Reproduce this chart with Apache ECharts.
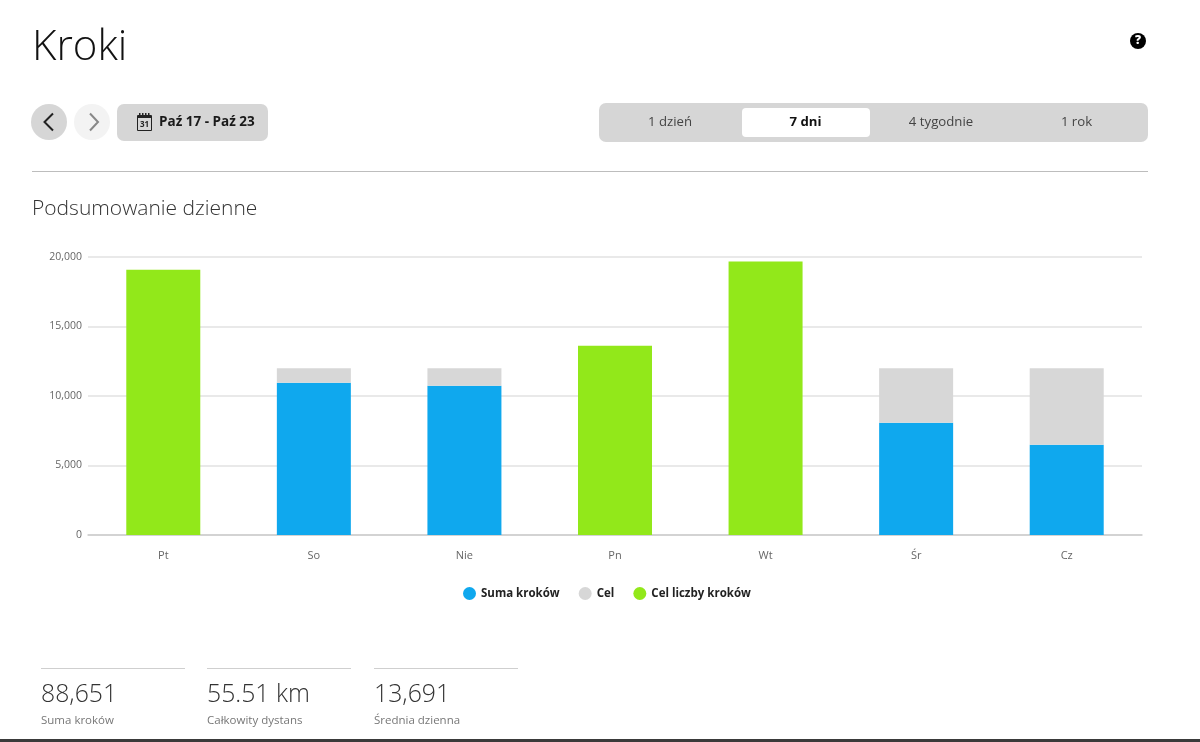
<!DOCTYPE html>
<html>
<head>
<meta charset="UTF-8">
<title>Kroki</title>
<script src="https://cdn.jsdelivr.net/npm/echarts@6/dist/echarts.min.js"></script>
<style>
    html, body { margin: 0; padding: 0; background: #fff; }
    #container { width: 1200px; height: 742px; }
</style>
</head>
<body>
<div id="container"></div>
<script>
    // dane
    let days = ['Pt', 'So', 'Nie', 'Pn', 'Wt', 'Śr', 'Cz'];
    let sumaKrokow = [0, 10960, 10740, 0, 0, 8080, 6491];
    let cel = [0, 1040, 1260, 0, 0, 3920, 5509];
    let celLiczbyKrokow = [19090, 0, 0, 13620, 19670, 0, 0];
    let rangeTabs = ['1 dzień', '7 dni', '4 tygodnie', '1 rok'];
    let statValues = ['88,651', '55.51 km', '13,691'];
    let statLabels = ['Suma kroków', 'Całkowity dystans', 'Średnia dzienna'];

    let fontName = '"Open Sans", sans-serif';

    function label(x, y, text, size, color, weight, align) {
        return {
            type: 'text', x: x, y: y, silent: true,
            style: {
                text: text, fill: color, fontFamily: fontName, fontSize: size,
                fontWeight: weight || 400, align: align || 'left', verticalAlign: 'middle'
            }
        };
    }

    function box(x, y, w, h, r, color) {
        return { type: 'rect', silent: true, shape: { x: x, y: y, width: w, height: h, r: r }, style: { fill: color } };
    }

    function hline(x1, x2, y, color) {
        return { type: 'rect', silent: true, shape: { x: x1, y: y, width: x2 - x1, height: 1 }, style: { fill: color } };
    }

    function chevron(points, color) {
        return { type: 'polyline', silent: true, shape: { points: points }, style: { stroke: color, lineWidth: 2, fill: null } };
    }

    // naglowek, przyciski i podsumowanie
    function buildChrome() {
        let items = [];
        items.push(label(32, 48, 'Kroki', 42, '#111', 300));
        items.push({ type: 'circle', silent: true, shape: { cx: 1138, cy: 41, r: 8 }, style: { fill: '#000' } });
        items.push(label(1138, 41, '?', 12, '#fff', 800, 'center'));

        items.push({ type: 'circle', silent: true, shape: { cx: 49, cy: 122, r: 18 }, style: { fill: '#d6d6d6' } });
        items.push(chevron([[53, 113.5], [44.5, 122], [53, 130.5]], '#222'));
        items.push({ type: 'circle', silent: true, shape: { cx: 92, cy: 122, r: 18 }, style: { fill: '#f3f3f3' } });
        items.push(chevron([[90, 113.5], [98, 122], [90, 130.5]], '#888'));

        items.push(box(117, 104, 151, 37, 7, '#d6d6d6'));
        // ikona kalendarza
        items.push({ type: 'rect', silent: true, shape: { x: 137.5, y: 116.5, width: 14, height: 14 }, style: { fill: 'none', stroke: '#222', lineWidth: 1 } });
        items.push(box(137, 115, 15, 3, 1, '#222'));
        [139, 142, 145, 148].forEach(function(x) {
            items.push(box(x, 113, 1.5, 3, 0, '#222'));
        });
        items.push(label(144.5, 125, '31', 8, '#222', 700, 'center'));
        items.push(label(159, 122.5, 'Paź 17 - Paź 23', 13.5, '#1a1a1a', 700));

        items.push(box(599, 103, 549, 39, 7, '#d6d6d6'));
        items.push(box(742, 108, 128, 29, 4, '#fff'));
        let tabX = [670, 805.5, 941, 1076.5];
        rangeTabs.forEach(function(tab, i) {
            items.push(label(tabX[i], 122.5, tab, 13.2, i === 1 ? '#111' : '#444', i === 1 ? 700 : 400, 'center'));
        });

        items.push(hline(32, 1148, 171, '#bdbdbd'));
        items.push(label(32, 209, 'Podsumowanie dzienne', 21, '#333', 300));

        let statX = [41, 207, 374];
        statValues.forEach(function(value, i) {
            items.push(hline(statX[i], statX[i] + 144, 668, '#cfcfcf'));
            items.push(label(statX[i], 695, value, 24.8, '#333', 300));
            items.push(label(statX[i], 721, statLabels[i], 11.5, '#777', 400));
        });

        items.push(box(0, 739, 1200, 3, 0, '#3a3a3a'));
        return items;
    }

    function barSeries(name, data, color) {
        return {
            name: name,
            type: 'bar',
            stack: 'kroki',
            barWidth: 74,
            data: data,
            itemStyle: { color: color },
            emphasis: { disabled: true }
        };
    }

    let myChart = echarts.init(document.getElementById('container'), null, { renderer: 'canvas' });
    let option = {
        animation: false,
        backgroundColor: '#fff',
        textStyle: { fontFamily: fontName },
        grid: { left: 88, right: 58, top: 257, bottom: 207 },
        legend: {
            data: ['Suma kroków', 'Cel', 'Cel liczby kroków'],
            left: 458,
            top: 582,
            icon: 'circle',
            itemWidth: 13,
            itemHeight: 13,
            itemGap: 19,
            selectedMode: false,
            textStyle: { fontFamily: fontName, fontSize: 11.5, fontWeight: 700, color: '#222' }
        },
        xAxis: {
            type: 'category',
            data: days,
            axisLine: { lineStyle: { color: '#cccccc', width: 1.5 } },
            axisTick: { alignWithLabel: true, length: 5, lineStyle: { color: '#cccccc' } },
            axisLabel: { color: '#666', fontSize: 11, margin: 15, fontFamily: fontName }
        },
        yAxis: {
            type: 'value',
            min: 0,
            max: 20000,
            interval: 5000,
            axisLine: { show: false },
            axisTick: { show: false },
            axisLabel: { color: '#666', fontSize: 10.5, margin: 6, padding: [4, 0, 0, 0], fontFamily: fontName },
            splitLine: { lineStyle: { color: '#e2e2e2', width: 1.5 } }
        },
        series: [
            barSeries('Suma kroków', sumaKrokow, '#0fa8ee'),
            barSeries('Cel', cel, '#d7d7d7'),
            barSeries('Cel liczby kroków', celLiczbyKrokow, '#92e81a')
        ],
        graphic: buildChrome()
    };
    myChart.setOption(option);
</script>
</body>
</html>
